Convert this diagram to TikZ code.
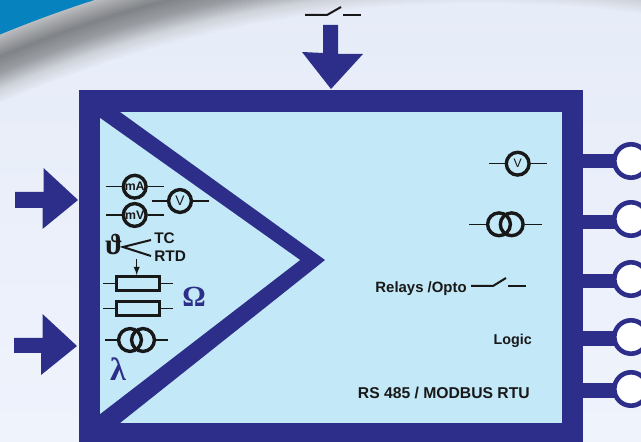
\documentclass[tikz,border=0pt]{standalone}
\usepackage{fontspec}
\setmainfont{Liberation Sans}
\newfontfamily\symbfont{Liberation Serif}
\usetikzlibrary{arrows}
\definecolor{navyband}{RGB}{45,46,137}
\definecolor{panelblue}{RGB}{195,232,247}
\definecolor{cornerblue}{RGB}{6,130,190}
\definecolor{paletop}{RGB}{230,236,248}
\definecolor{palelow}{RGB}{239,243,252}
\definecolor{inkblack}{RGB}{24,24,24}
\definecolor{swooshA}{RGB}{207,211,218}
\definecolor{swooshB}{RGB}{154,157,162}
\definecolor{swooshC}{RGB}{128,131,135}
\definecolor{swooshD}{RGB}{187,189,192}
\tikzset{
  band/.style={fill=navyband,draw=none},
  lead/.style={draw=inkblack,line width=0.85pt},
  meter/.style={circle,draw=inkblack,line width=2.2pt,minimum size=14.8pt,inner sep=0pt,font=\bfseries\fontsize{8}{8}\selectfont,text=inkblack},
  coil/.style={circle,draw=inkblack,line width=2.2pt,minimum size=14.8pt,inner sep=0pt},
  resbox/.style={rectangle,draw=inkblack,line width=2pt,minimum width=28pt,minimum height=9.3pt,inner sep=0pt},
  caption/.style={text=inkblack,inner sep=0pt,font=\bfseries\fontsize{9.7}{10}\selectfont},
}
\begin{document}
\begin{tikzpicture}[x=0.65pt,y=0.65pt,yscale=-1,xscale=1]
\useasboundingbox (0,0) rectangle (641,442);

%background
\begin{scope}
\clip (0,0) rectangle (641,442);
\fill [cornerblue] (0,0) rectangle (641,442);
\foreach \ra/\rb/\ca/\cb in {1260/1240/swooshD/swooshC,1240/1225/swooshC/swooshB,1225/1210/swooshB/swooshA,1210/1197/swooshA/paletop} {
  \foreach \r in {\ra,...,\rb} {
    \pgfmathsetmacro{\mixval}{100*(\r-\rb)/(\ra-\rb)}
    \fill [\ca!\mixval!\cb] (480,1200) circle (\r);
  }
}
\clip (480,1200) circle (1197);
\shade [top color=paletop,bottom color=palelow] (0,0) rectangle (641,442);
\end{scope}

%input arrows
\fill [band] (323,25) -- (338,25) -- (338,54) -- (363,54) -- (331,89) -- (302,52) -- (323,53) -- cycle;
\fill [band] (15,192) -- (43.5,192) -- (43.5,168) -- (78,200) -- (42.5,229) -- (42.5,208) -- (15,208) -- cycle;
\fill [band] (14,338) -- (42.5,338) -- (42.5,314) -- (77,346) -- (41,375) -- (41,353) -- (14,353) -- cycle;

%output terminals
\foreach \y/\yy in {161/161,219/222,279/281,337/338.5,389/390.5} {
  \draw [navyband,line width=9.7pt] (583,\yy) -- (615,\yy);
  \draw [navyband,line width=3pt,fill=white] (631,\y) circle (16.7);
}

%frame
\fill [band] (79,90) rectangle (583,442);
\fill [panelblue] (100,112) rectangle (562,423);
\fill [band] (120,112) -- (325,260) -- (120,423) -- (100,423) -- (100,112) -- cycle;
\fill [panelblue] (100,118) -- (300,260) -- (100,414) -- cycle;

%input side
\node [meter] (mA) at (134.7,186.7) {mA};
\node [meter] (mV) at (134.7,215) {mV};
\node [meter,font=\fontsize{9}{9}\selectfont] (Vin) at (180,201) {V};
\draw [lead] (105.7,186.7) -- (mA) (mA) -- (163.7,186.7);
\draw [lead] (105.7,215) -- (mV) (mV) -- (163.7,215);
\draw [lead] (151.7,201) -- (Vin) (Vin) -- (208.7,201);

\node [text=inkblack,inner sep=0pt] (theta) at (114,245) {\symbfont\bfseries\fontsize{19}{20}\selectfont ϑ};
\node [caption,anchor=west,font=\bfseries\fontsize{10}{10}\selectfont] (TC) at (154,238) {TC};
\node [caption,anchor=west,font=\bfseries\fontsize{10}{10}\selectfont] (RTD) at (154,256) {RTD};
\draw [lead,line width=1.3pt] (151,240) -- (123,247) -- (151,256);

\node [resbox] (Rvar) at (137.8,283.7) {};
\node [resbox] (Rfix) at (137.8,308.7) {};
\draw [lead] (103,283.7) -- (Rvar) (Rvar) -- (173,283.7);
\draw [lead] (103,308.7) -- (Rfix) (Rfix) -- (173,308.7);
\coordinate (wiper) at (136.7,259);
\draw [lead,-latex] (wiper) -- (Rvar.north -| wiper);
\node [text=navyband,inner sep=0pt] (ohm) at (194,297) {\symbfont\bfseries\fontsize{19}{20}\selectfont Ω};

\node [coil] (Ca) at (130,340) {};
\node [coil] (Cb) at (143,340) {};
\draw [lead] (105,340) -- (Ca) (Cb) -- (168,340);
\node [text=navyband,inner sep=0pt] (lambda) at (118,369) {\symbfont\bfseries\fontsize{21}{22}\selectfont λ};

%output side
\node [meter,font=\fontsize{8}{8}\selectfont] (Vout) at (517.7,163.7) {V};
\draw [lead] (489,163.7) -- (Vout) (Vout) -- (546.7,163.7);
\node [coil] (Cc) at (499,224.3) {};
\node [coil] (Cd) at (511.7,224.3) {};
\draw [lead] (469,224.3) -- (Cc) (Cd) -- (541.7,224.3);
\node [caption,anchor=east] (relays) at (467,288.5) {Relays /Opto};
\draw [lead,line width=1.3pt] (471,286) -- (493,286) -- (506,278);
\draw [lead,line width=1.3pt] (508,286) -- (526,286);
\node [caption,anchor=east,font=\bfseries\fontsize{9.3}{10}\selectfont] (logic) at (532,340.5) {Logic};
\node [caption,anchor=east,font=\bfseries\fontsize{10.2}{10}\selectfont] (modbus) at (530,393) {RS 485 / MODBUS RTU};

%top switch
\draw [lead,line width=1.3pt] (305,15) -- (327,15) -- (341,7);
\draw [lead,line width=1.3pt] (343,15) -- (361,15);
\end{tikzpicture}
\end{document}
